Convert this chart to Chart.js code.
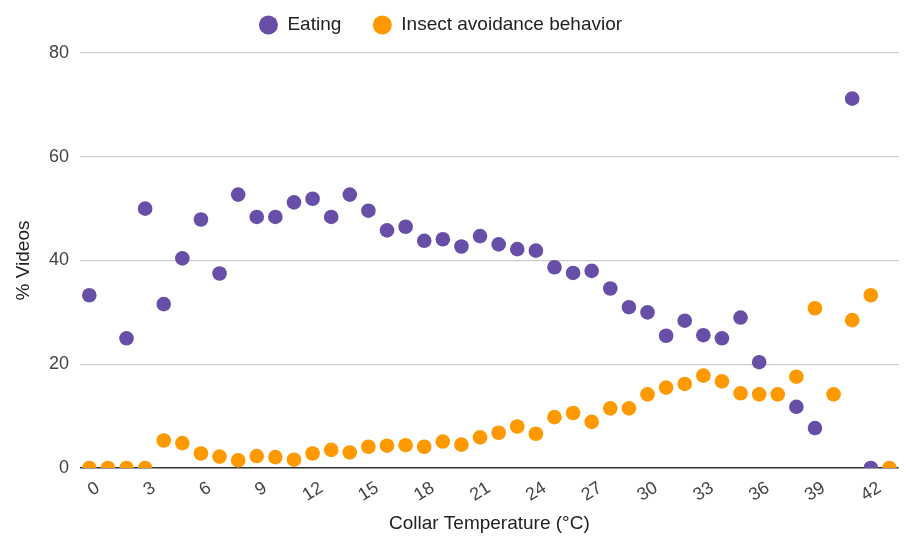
<!DOCTYPE html>
<html>
<head>
<meta charset="utf-8">
<script src="https://cdn.jsdelivr.net/npm/chart.js@4.4.1/dist/chart.umd.min.js"></script>
<style>
html,body{margin:0;padding:0;background:#ffffff;}
#wrap{width:906px;height:538px;position:relative;}
</style>
</head>
<body>
<div id="wrap"><canvas id="c"></canvas></div>
<script>
// ---- data ----
const temperatures = [0,1,2,3,4,5,6,7,8,9,10,11,12,13,14,15,16,17,18,19,20,21,22,23,24,25,26,27,28,29,30,31,32,33,34,35,36,37,38,39,40,41,42,43];
const eating = [33.3,null,25.0,50.0,31.6,40.4,47.9,37.5,52.7,48.4,48.4,51.2,51.9,48.4,52.7,49.6,45.8,46.5,43.8,44.1,42.7,44.7,43.1,42.2,41.9,38.7,37.6,38.0,34.6,31.0,30.0,25.5,28.4,25.6,25.0,29.0,20.4,null,11.8,7.7,null,71.2,0,null];
const insectAvoidance = [0,0,0,0,5.3,4.8,2.8,2.2,1.5,2.3,2.1,1.6,2.8,3.5,3.0,4.1,4.3,4.4,4.1,5.1,4.5,5.9,6.8,8.0,6.6,9.8,10.6,8.9,11.5,11.5,14.2,15.5,16.2,17.8,16.7,14.4,14.2,14.2,17.6,30.8,14.2,28.5,33.3,0];
const seriesNames = ['Eating', 'Insect avoidance behavior'];
const xTitle = 'Collar Temperature (°C)';
const yTitle = '% Videos';
const yTickValues = [0, 20, 40, 60, 80];
const xTickStep = 3;

const FONT = '"Liberation Sans", Arial, sans-serif';
const PURPLE = '#674ea7';
const ORANGE = '#ff9900';

function toPoints(values) {
  return temperatures.map((t, i) => ({x: t, y: values[i]})).filter(p => p.y !== null);
}

const legendTweak = {
  id: 'legendTweak',
  beforeLayout(chart) {
    const lg = chart.legend;
    if (lg && !lg._tweaked) {
      const origFit = lg.fit.bind(lg);
      lg.fit = function () { origFit(); this.height += 8.5; };
      lg._tweaked = true;
    }
  },
  afterLayout(chart) {
    const lg = chart.legend;
    if (lg) { lg.left -= 9; lg.right -= 9; }
  }
};

new Chart(document.getElementById('c'), {
  type: 'scatter',
  data: {
    datasets: [
      {label: seriesNames[0], data: toPoints(eating), backgroundColor: PURPLE, borderColor: PURPLE, borderWidth: 0, pointRadius: 7.3, pointHoverRadius: 7.3},
      {label: seriesNames[1], data: toPoints(insectAvoidance), backgroundColor: ORANGE, borderColor: ORANGE, borderWidth: 0, pointRadius: 7.3, pointHoverRadius: 7.3}
    ]
  },
  options: {
    responsive: true,
    maintainAspectRatio: false,
    animation: false,
    layout: {padding: {top: -16, right: 7, bottom: 0, left: 0}},
    plugins: {
      tooltip: {enabled: false},
      legend: {
        position: 'top',
        align: 'center',
        labels: {
          usePointStyle: true,
          pointStyle: 'circle',
          boxHeight: 13.4,
          pointStyleWidth: 19,
          padding: 31.5,
          color: '#222222',
          font: {family: FONT, size: 19}
        }
      }
    },
    scales: {
      x: {
        type: 'linear',
        min: -0.5,
        max: 43.5,
        grid: {display: false, drawTicks: false},
        border: {display: false},
        ticks: {
          stepSize: xTickStep,
          includeBounds: false,
          autoSkip: false,
          minRotation: 32,
          maxRotation: 32,
          labelOffset: 8.7,
          padding: 9.3,
          color: '#444444',
          font: {family: FONT, size: 18}
        },
        title: {display: true, text: xTitle, color: '#222222', font: {family: FONT, size: 19}, padding: {top: 0, bottom: 2.6}},
        afterFit(s) { s.height = 70; }
      },
      y: {
        min: 0,
        max: 80,
        grid: {
          drawTicks: false,
          color: ctx => (ctx.tick && ctx.tick.value === 0) ? '#333333' : '#cccccc',
          lineWidth: ctx => (ctx.tick && ctx.tick.value === 0) ? 1.5 : 1.2
        },
        border: {display: false},
        afterBuildTicks(s) { s.ticks = yTickValues.map(v => ({value: v})); },
        ticks: {
          padding: 11,
          color: '#444444',
          font: {family: FONT, size: 18}
        },
        title: {display: true, text: yTitle, color: '#222222', font: {family: FONT, size: 19}, padding: {top: 12, bottom: 0}},
        afterFit(s) { s.width = 80; }
      }
    }
  },
  plugins: [legendTweak]
});
</script>
</body>
</html>
